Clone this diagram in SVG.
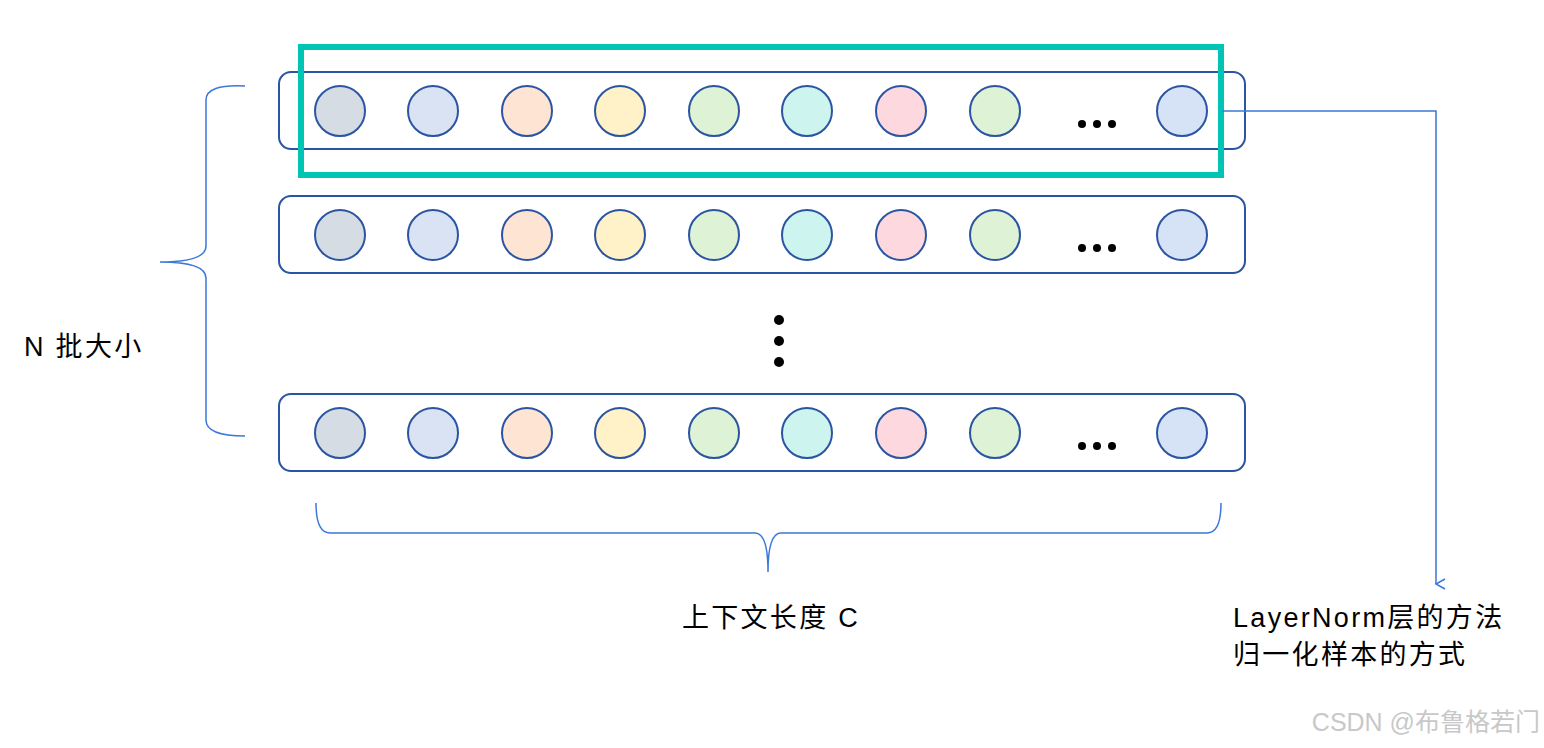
<svg xmlns="http://www.w3.org/2000/svg" width="1544" height="748" viewBox="0 0 1544 748">
<style>
.row{fill:#fff;stroke:#2b55a3;stroke-width:2}
.c{stroke:#2b55a3;stroke-width:2}
.br{fill:none;stroke:#3b78d8;stroke-width:1.5}
.t{font-family:"Liberation Sans","Noto Sans CJK SC",sans-serif;font-size:27px;letter-spacing:2.3px;fill:#000}
</style>
<defs>
<marker id="a" markerWidth="12" markerHeight="12" refX="6" refY="10" orient="auto" markerUnits="userSpaceOnUse"><path d="M1,1 L6,10 L11,1" fill="none" stroke="#3b78d8" stroke-width="1.5"/></marker>
<g id="circles">
<circle class="c" cx="340" cy="0" r="25" fill="#d6dce4"/>
<circle class="c" cx="433" cy="0" r="25" fill="#dae3f3"/>
<circle class="c" cx="527" cy="0" r="25" fill="#fde4d3"/>
<circle class="c" cx="620" cy="0" r="25" fill="#fff1c8"/>
<circle class="c" cx="714" cy="0" r="25" fill="#def2d6"/>
<circle class="c" cx="807" cy="0" r="25" fill="#cdf4ee"/>
<circle class="c" cx="901" cy="0" r="25" fill="#fdd9df"/>
<circle class="c" cx="995" cy="0" r="25" fill="#def2d6"/>
<circle class="c" cx="1182" cy="0" r="25" fill="#d6e2f5"/>
<circle cx="1082" cy="13" r="4"/><circle cx="1097" cy="13" r="4"/><circle cx="1112" cy="13" r="4"/>
</g>
</defs>
<g id="row1"><rect class="row" x="279" y="72" width="966" height="77" rx="12"/><use href="#circles" y="111"/></g>
<g id="row2"><rect class="row" x="279" y="196" width="966" height="77" rx="12"/><use href="#circles" y="235"/></g>
<g id="row3"><rect class="row" x="279" y="394" width="966" height="77" rx="12"/><use href="#circles" y="433"/></g>
<g id="highlight"><rect x="301" y="47" width="920" height="128" fill="none" stroke="#00c4b4" stroke-width="6"/></g>
<g id="vdots"><circle cx="779" cy="320" r="5"/><circle cx="779" cy="341" r="5"/><circle cx="779" cy="362" r="5"/></g>
<g id="connectors">
<path d="M1222,111 H1436 V584" fill="none" stroke="#3b78d8" stroke-width="1.5" marker-end="url(#a)"/>
<path class="br" d="M245,86 Q206,84 206,100 V246 Q206,262 160,262 Q206,262 206,278 V420 Q206,436 245,436"/>
<path class="br" d="M316,503 Q316,533 330,533 H755 Q768,533 768,572 Q768,533 781,533 H1207 Q1221,533 1221,503"/>
</g>
<g id="labels">
<text class="t" x="24" y="356">N 批大小</text>
<text class="t" x="771" y="627" text-anchor="middle">上下文长度 C</text>
<text class="t" x="1233" y="627">LayerNorm层的方法</text>
<text class="t" x="1233" y="664">归一化样本的方式</text>
<text x="1540" y="731" text-anchor="end" font-family="Liberation Sans,Noto Sans CJK SC,sans-serif" font-size="25" fill="#c8c8c8">CSDN @布鲁格若门</text>
</g>
</svg>
